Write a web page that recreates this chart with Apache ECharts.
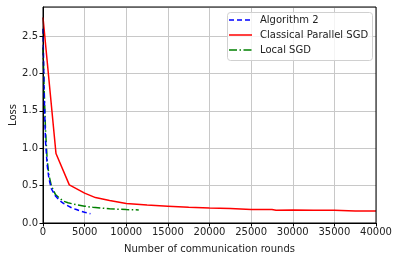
<!DOCTYPE html>
<html><head><meta charset="utf-8">
<script src="https://cdn.jsdelivr.net/npm/echarts@6/dist/echarts.min.js"></script>
<style>html,body{margin:0;padding:0;background:#fff}#c{width:399px;height:261px}</style>
</head><body><div id="c"></div>
<script>
const algX = [0, 150, 300, 500, 700, 1000, 1500, 2000, 2500, 3000, 3500, 4000, 4500, 5000, 5700];
const algY = [2.6, 1.7, 1.1, 0.78, 0.6, 0.46, 0.36, 0.3, 0.26, 0.23, 0.2, 0.18, 0.16, 0.145, 0.125];
const cpsX = [0, 1560, 3160, 5000, 6300, 8000, 10000, 12500, 15000, 17500, 20000, 22500, 25000, 27500, 28000, 30000, 32500, 35000, 37500, 40000];
const cpsY = [2.75, 0.93, 0.51, 0.4, 0.34, 0.3, 0.26, 0.24, 0.225, 0.21, 0.2, 0.195, 0.18, 0.18, 0.17, 0.175, 0.17, 0.17, 0.16, 0.16];
const lsgdX = [0, 150, 300, 500, 700, 1000, 1500, 2000, 2500, 3000, 4000, 5000, 6000, 7000, 8000, 9000, 10000, 11500];
const lsgdY = [2.35, 1.75, 1.25, 0.85, 0.65, 0.5, 0.38, 0.33, 0.29, 0.27, 0.245, 0.225, 0.21, 0.2, 0.19, 0.185, 0.18, 0.175];
const names = ['Algorithm 2', 'Classical Parallel SGD', 'Local SGD'];
const colors = ['#0000ff', '#ff0000', '#008000'];
const dashes = [[5, 3], 'solid', [8, 2.5, 1.5, 2.5]];
const zip = (a, b) => a.map((v, i) => [v, b[i]]);
const font = 'DejaVu Sans';
const legendEls = [{type: 'rect', shape: {x: 227.5, y: 12.5, width: 145, height: 48, r: 3},
  style: {fill: 'rgba(255,255,255,0.8)', stroke: '#d0d0d0', lineWidth: 1}, z: 100}];
names.forEach((n, i) => {
  const y = 20 + i * 15;
  legendEls.push({type: 'line', shape: {x1: 229, y1: y, x2: 252, y2: y},
    style: {stroke: colors[i], lineWidth: 1.5, lineDash: dashes[i] === 'solid' ? null : dashes[i]}, z: 101});
  legendEls.push({type: 'text', x: 260, y: y, style: {text: n, fontFamily: font, fontSize: 10, fill: '#222', verticalAlign: 'middle'}, z: 101});
});
const chart = echarts.init(document.getElementById('c'));
chart.setOption({
  animation: false,
  grid: {left: 43, right: 23, top: 7, bottom: 38, show: true, borderColor: '#000', borderWidth: 1, z: 10, outerBoundsMode: 'none', containLabel: false},
  graphic: legendEls,
  xAxis: {
    type: 'value', min: 0, max: 40000, interval: 5000,
    axisLine: {show: true, onZero: false, lineStyle: {color: '#000'}},
    axisTick: {show: true, length: 3.5, lineStyle: {color: '#000'}},
    axisLabel: {fontFamily: font, fontSize: 10, color: '#222', margin: 4, formatter: v => String(v)},
    splitLine: {show: true, lineStyle: {color: '#c8c8c8', width: 1}},
    name: 'Number of communication rounds', nameLocation: 'middle', nameGap: 21, nameMoveOverlap: false,
    nameTextStyle: {fontFamily: font, fontSize: 10, color: '#222'}
  },
  yAxis: {
    type: 'value', min: 0, max: 2.89, interval: 0.5,
    axisLine: {show: true, lineStyle: {color: '#000'}},
    axisTick: {show: true, length: 3.5, lineStyle: {color: '#000'}},
    axisLabel: {fontFamily: font, fontSize: 10, color: '#222', margin: 5, showMaxLabel: false,
      formatter: v => v.toFixed(1)},
    splitLine: {show: true, lineStyle: {color: '#c8c8c8', width: 1}},
    name: 'Loss', nameLocation: 'middle', nameGap: 25, nameRotate: 90, nameMoveOverlap: false,
    nameTextStyle: {fontFamily: font, fontSize: 10, color: '#222'}
  },
  series: [
    {name: names[0], type: 'line', data: zip(algX, algY), symbol: 'none', z: 4,
      lineStyle: {color: colors[0], width: 1.5, type: dashes[0]}},
    {name: names[1], type: 'line', data: zip(cpsX, cpsY), symbol: 'none', z: 3,
      lineStyle: {color: colors[1], width: 1.5}},
    {name: names[2], type: 'line', data: zip(lsgdX, lsgdY), symbol: 'none', z: 3,
      lineStyle: {color: colors[2], width: 1.5, type: dashes[2]}}
  ]
});
</script></body></html>
